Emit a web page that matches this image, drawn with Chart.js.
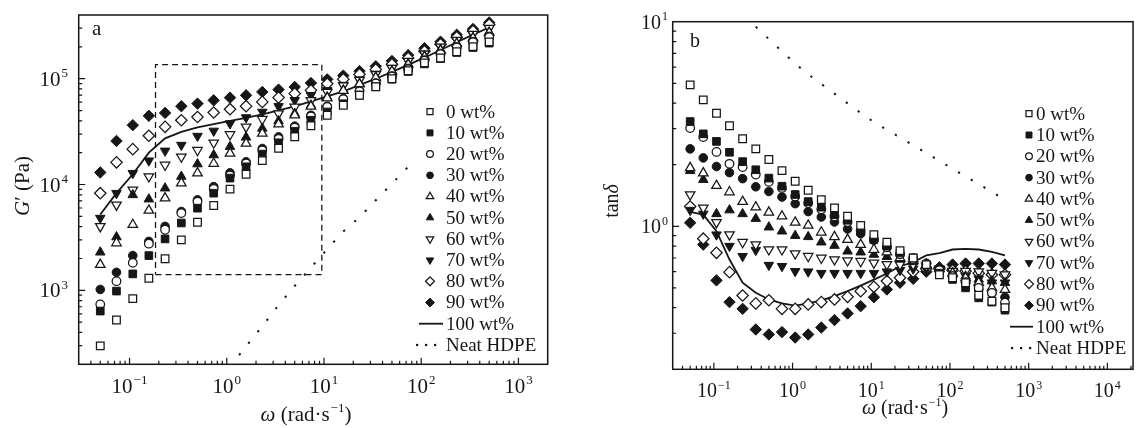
<!DOCTYPE html>
<html>
<head>
<meta charset="utf-8">
<title>G' and tan delta vs frequency</title>
<script src="https://cdn.jsdelivr.net/npm/chart.js@4.4.1/dist/chart.umd.min.js"></script>
<style>
  html, body { margin: 0; padding: 0; background: #fff; }
  #wrap { position: relative; width: 1137px; height: 428px; overflow: hidden; }
  #wrap canvas { position: absolute; top: 0; }
</style>
</head>
<body>
<div id="wrap">
  <canvas id="chartA" width="568" height="428" style="left:0px"></canvas>
  <canvas id="chartB" width="572" height="428" style="left:568px"></canvas>
</div>
<script>
// angular frequency (rad/s), same sweep in both panels
const omega = [0.05, 0.0734, 0.108, 0.158, 0.232, 0.341, 0.5, 0.734, 1.08, 1.58, 2.32, 3.41, 5, 7.34, 10.8, 15.8, 23.2, 34.1, 50, 73.4, 108, 158, 232, 341, 500];

const labels = ["0 wt%", "10 wt%", "20 wt%", "30 wt%", "40 wt%", "50 wt%", "60 wt%", "70 wt%", "80 wt%", "90 wt%", "100 wt%", "Neat HDPE"];

// panel a: storage modulus G' (Pa)
const gp0  = [299, 525, 836, 1300, 1990, 3000, 4400, 6340, 9040, 12500, 16800, 22000, 28300, 35900, 45200, 56100, 69700, 84000, 100000, 119000, 141000, 157000, 180000, 201000, 223000];
const gp10 = [637, 984, 1430, 2130, 3060, 4330, 5980, 8280, 11500, 14700, 19400, 24800, 31900, 40500, 48500, 58000, 70000, 84000, 99000, 117000, 138000, 155000, 177000, 197000, 217000];
const gp20 = [737, 1220, 1820, 2760, 3740, 5370, 6900, 9100, 12200, 15800, 21000, 27000, 34500, 44000, 54000, 64000, 76000, 90000, 105000, 123000, 148000, 171000, 197000, 221000, 247000];
const gp30 = [1020, 1480, 2130, 2900, 4020, 5560, 7160, 9550, 12900, 16400, 21900, 28200, 35600, 45200, 54800, 65000, 77000, 91000, 106000, 125000, 150000, 173000, 200000, 224000, 251000];
const gp40 = [1750, 2800, 4170, 5690, 7440, 10300, 12800, 15800, 19700, 24500, 30400, 37200, 45200, 54800, 65700, 77000, 89000, 102000, 117000, 136000, 161000, 185000, 214000, 241000, 272000];
const gp50 = [2290, 3190, 7980, 7270, 9230, 11900, 15600, 19000, 22800, 27900, 33900, 39900, 46900, 56100, 67100, 78000, 90000, 103000, 118000, 138000, 163000, 188000, 216000, 244000, 275000];
const gp60 = [4020, 6420, 8890, 11900, 15300, 18300, 21100, 24800, 29700, 35100, 41400, 46900, 54100, 62500, 74800, 86000, 97000, 110000, 126000, 147000, 172000, 200000, 232000, 264000, 300000];
const gp70 = [4820, 8280, 12800, 16800, 20800, 23600, 28700, 32100, 37700, 43000, 48500, 54800, 62500, 69700, 77600, 87000, 98000, 111000, 126000, 146000, 172000, 199000, 230000, 262000, 298000];
const gp80 = [8280, 16200, 21600, 28900, 35100, 40500, 43500, 47900, 51500, 55000, 60400, 66300, 72300, 77600, 89700, 99000, 110000, 122000, 137000, 157000, 182000, 212000, 247000, 282000, 325000];
const gp90 = [13000, 25800, 36400, 44600, 47500, 55000, 58200, 62500, 66200, 69700, 75000, 78900, 83600, 91000, 98600, 107000, 118000, 131000, 147000, 167000, 194000, 224000, 260000, 295000, 340000];
const gp100 = [5200, 8300, 12500, 20000, 27300, 31500, 34600, 37200, 39900, 42600, 46100, 50300, 54800, 61100, 68100, 76000, 87000, 100000, 116000, 135000, 158000, 187000, 221000, 261000, 305000];
const gpHdpe = [null, null, null, null, null, null, null, null, 190, 296, 457, 725, 1100, 1640, 2450, 3600, 4900, 7100, 10200, 14700, 21000, null, null, null, null];

// dashed frame marking the zoomed region in panel a
const boxX = [0.185, 9.5, 9.5, 0.185, 0.185];
const boxY = [1410, 1410, 136000, 136000, 1410];

// panel b: loss tangent tan(delta)
const tan0  = [4.91, 4.15, 3.57, 3.10, 2.68, 2.39, 2.12, 1.87, 1.66, 1.50, 1.35, 1.23, 1.12, 1.01, 0.911, 0.836, 0.76, 0.70, 0.65, 0.58, 0.56, 0.53, 0.46, 0.43, 0.40];
const tan10 = [3.25, 2.83, 2.60, 2.30, 2.07, 1.89, 1.72, 1.57, 1.43, 1.32, 1.24, 1.14, 1.07, 0.945, 0.86, 0.80, 0.74, 0.70, 0.65, 0.59, 0.55, 0.50, 0.447, 0.426, 0.389];
const tan20 = [3.02, 2.73, 2.31, 2.02, 1.95, 1.79, 1.65, 1.54, 1.40, 1.30, 1.21, 1.12, 1.05, 0.95, 0.86, 0.79, 0.73, 0.69, 0.65, 0.61, 0.57, 0.533, 0.50, 0.473, 0.423];
const tan30 = [2.39, 2.16, 1.96, 1.83, 1.71, 1.56, 1.48, 1.39, 1.29, 1.18, 1.11, 1.05, 0.97, 0.92, 0.855, 0.79, 0.73, 0.70, 0.66, 0.62, 0.57, 0.53, 0.49, 0.47, 0.45];
const tan40 = [1.93, 1.82, 1.58, 1.47, 1.32, 1.24, 1.17, 1.12, 1.045, 1.01, 0.935, 0.888, 0.861, 0.814, 0.77, 0.747, 0.70, 0.68, 0.65, 0.62, 0.59, 0.56, 0.53, 0.50, 0.49];
const tan50 = [1.87, 1.69, 1.15, 1.20, 1.15, 1.09, 0.99, 0.946, 0.90, 0.888, 0.836, 0.805, 0.755, 0.747, 0.728, 0.71, 0.69, 0.67, 0.65, 0.62, 0.59, 0.57, 0.55, 0.54, 0.53];
const tan60 = [1.43, 1.23, 1.045, 0.911, 0.836, 0.814, 0.77, 0.77, 0.736, 0.714, 0.70, 0.688, 0.68, 0.675, 0.663, 0.652, 0.65, 0.65, 0.64, 0.62, 0.603, 0.603, 0.60, 0.59, 0.58];
const tan70 = [1.20, 1.15, 0.91, 0.80, 0.714, 0.764, 0.646, 0.638, 0.603, 0.60, 0.59, 0.59, 0.59, 0.59, 0.59, 0.60, 0.61, 0.62, 0.62, 0.61, 0.60, 0.57, 0.554, 0.53, 0.53];
const tan80 = [1.25, 0.87, 0.742, 0.597, 0.459, 0.42, 0.435, 0.395, 0.395, 0.415, 0.426, 0.439, 0.452, 0.482, 0.506, 0.54, 0.56, 0.60, 0.62, 0.62, 0.61, 0.603, 0.59, 0.58, 0.58];
const tan90 = [1.04, 0.814, 0.544, 0.426, 0.395, 0.313, 0.296, 0.304, 0.286, 0.296, 0.32, 0.348, 0.375, 0.407, 0.45, 0.491, 0.53, 0.554, 0.60, 0.63, 0.65, 0.658, 0.658, 0.658, 0.65];
const tan100 = [1.175, 1.14, 0.946, 0.688, 0.53, 0.473, 0.439, 0.42, 0.41, 0.42, 0.435, 0.456, 0.482, 0.513, 0.549, 0.588, 0.638, 0.667, 0.72, 0.74, 0.77, 0.776, 0.77, 0.75, 0.72];
const tanHdpe = [null, null, null, null, null, 9.44, 8.22, 7.16, 6.24, 5.53, 4.96, 4.45, 3.99, 3.58, 3.23, 2.96, 2.72, 2.49, 2.28, 2.09, 1.91, 1.75, 1.61, 1.47, 1.35];

// decade tick labels (exponents of ten)
const xTicksA = [-1, 0, 1, 2, 3];
const yTicksA = [3, 4, 5];
const xTicksB = [-1, 0, 1, 2, 3, 4];
const yTicksB = [0, 1];

const ink = "#161616";
const serif = '"Liberation Serif", "Times New Roman", serif';

const markerStyles = [
  { style: "rect", filled: false }, { style: "rect", filled: true },
  { style: "circle", filled: false }, { style: "circle", filled: true },
  { style: "triangle", filled: false }, { style: "triangle", filled: true },
  { style: "triangle", filled: false, rot: 180 }, { style: "triangle", filled: true, rot: 180 },
  { style: "rectRot", filled: false }, { style: "rectRot", filled: true }
];
const markerRadius = { rect: 5.4, circle: 4.3, triangle: 5.5, rectRot: 5.7 };

function pts(xs, ys) {
  const out = [];
  ys.forEach((v, i) => { if (v !== null) out.push({ x: xs[i], y: v }); });
  return out;
}

function buildDatasets(series, solid, dotted, extra) {
  const sets = series.map((vals, i) => {
    const m = markerStyles[i];
    return {
      label: labels[i],
      data: pts(omega, vals),
      showLine: false,
      legendKind: "marker",
      pointStyle: m.style,
      pointRotation: m.rot || 0,
      pointRadius: markerRadius[m.style],
      backgroundColor: m.filled ? ink : "#fff",
      borderColor: ink,
      borderWidth: m.filled ? 1 : 1.25
    };
  });
  sets.push({
    label: labels[10], data: pts(omega, solid), showLine: true, legendKind: "line",
    pointRadius: 0, borderColor: ink, borderWidth: 1.8, fill: false
  });
  sets.push({
    label: labels[11], data: pts(omega, dotted), showLine: true, legendKind: "dots",
    pointRadius: 0, borderColor: ink, borderWidth: 2, borderDash: [2.2, 12.5], fill: false
  });
  if (extra) sets.push(extra);
  return sets;
}

// "10" with a raised exponent, or any mixed run of plain/italic/superscript text
function drawRich(ctx, parts, x, y, size, align) {
  const fontFor = p => (p.italic ? "italic " : "") + (p.sup ? Math.round(size * 0.62) : size) + "px " + serif;
  const widths = parts.map(p => { ctx.font = fontFor(p); return ctx.measureText(p.t).width + (p.sup ? 1 : 0); });
  const total = widths.reduce((a, b) => a + b, 0);
  let cx = align === "right" ? x - total : x - total / 2;
  ctx.textAlign = "left";
  ctx.textBaseline = "alphabetic";
  parts.forEach((p, i) => {
    ctx.font = fontFor(p);
    ctx.fillText(p.t, cx + (p.sup ? 1 : 0), p.sup ? y - size * 0.42 : y);
    cx += widths[i];
  });
}

function powParts(e) {
  return [{ t: "10" }, { t: String(e).replace("-", "\u2212"), sup: true }];
}

const framePlugin = {
  id: "frame",
  afterDatasetsDraw(chart, args, o) {
    const ctx = chart.ctx;
    const { left, right, top, bottom } = chart.chartArea;
    const xs = chart.scales.x, ys = chart.scales.y;
    ctx.save();
    ctx.setLineDash([]);

    // legend
    if (o.legendBox) {
      ctx.fillStyle = "#fff";
      ctx.fillRect(o.legendBox[0], o.legendBox[1], o.legendBox[2], o.legendBox[3]);
    }
    let row = 0;
    chart.data.datasets.forEach(ds => {
      if (!ds.legendKind) return;
      const y = o.legendTop + row * o.legendStep;
      row++;
      ctx.strokeStyle = ink;
      ctx.fillStyle = ink;
      if (ds.legendKind === "line") {
        ctx.lineWidth = 1.8;
        ctx.beginPath();
        ctx.moveTo(o.lineX[0], y);
        ctx.lineTo(o.lineX[1], y);
        ctx.stroke();
      } else if (ds.legendKind === "dots") {
        o.dotX.forEach(dx => ctx.fillRect(dx - 1, y - 1, 2.2, 2.2));
      } else {
        ctx.fillStyle = ds.backgroundColor;
        ctx.lineWidth = ds.borderWidth;
        Chart.helpers.drawPoint(ctx, {
          pointStyle: ds.pointStyle, rotation: ds.pointRotation,
          radius: ds.pointRadius * 0.78, borderWidth: ds.borderWidth
        }, o.markX, y);
      }
      ctx.fillStyle = ink;
      ctx.font = o.legendFont + "px " + serif;
      ctx.textAlign = "left";
      ctx.textBaseline = "middle";
      ctx.fillText(ds.label, o.textX, y + 1);
    });

    // plot frame
    ctx.strokeStyle = ink;
    ctx.lineWidth = 1.5;
    ctx.strokeRect(left, top, right - left, bottom - top);

    // inward log ticks on the bottom and left axes
    ctx.lineWidth = 1.2;
    ctx.beginPath();
    for (let d = Math.floor(Math.log10(xs.min)); d <= Math.ceil(Math.log10(xs.max)); d++) {
      for (let k = 1; k <= 9; k++) {
        const v = k * Math.pow(10, d);
        if (v < xs.min * 1.001 || v > xs.max * 0.999) continue;
        const px = xs.getPixelForValue(v);
        ctx.moveTo(px, bottom);
        ctx.lineTo(px, bottom - (k === 1 ? 6.5 : 3.5));
      }
    }
    for (let d = Math.floor(Math.log10(ys.min)); d <= Math.ceil(Math.log10(ys.max)); d++) {
      for (let k = 1; k <= 9; k++) {
        const v = k * Math.pow(10, d);
        if (v < ys.min * 1.001 || v > ys.max * 0.999) continue;
        const py = ys.getPixelForValue(v);
        ctx.moveTo(left, py);
        ctx.lineTo(left + (k === 1 ? 6.5 : 3.5), py);
      }
    }
    ctx.stroke();

    // tick labels
    ctx.fillStyle = ink;
    o.xTicks.forEach(e => drawRich(ctx, powParts(e), xs.getPixelForValue(Math.pow(10, e)), o.xLabelY, o.tickFont, "center"));
    o.yTicks.forEach(e => drawRich(ctx, powParts(e), o.yLabelX, ys.getPixelForValue(Math.pow(10, e)) + 7, o.tickFont, "right"));

    // axis titles
    drawRich(ctx, [{ t: "\u03c9", italic: true }, { t: " (rad\u00b7s" }, { t: "\u22121", sup: true }, { t: ")" }], o.xTitle[0], o.xTitle[1], o.titleFont, "center");
    ctx.save();
    ctx.translate(o.yTitle[0], o.yTitle[1]);
    ctx.rotate(-Math.PI / 2);
    drawRich(ctx, o.yTitleParts, 0, 0, o.titleFont, "center");
    ctx.restore();

    // panel letter
    ctx.font = o.titleFont + "px " + serif;
    ctx.textAlign = "left";
    ctx.textBaseline = "alphabetic";
    ctx.fillText(o.panel, o.panelPos[0], o.panelPos[1]);
    ctx.restore();
  }
};

function makeChart(id, datasets, range, padding, frameOpts) {
  return new Chart(document.getElementById(id).getContext("2d"), {
    type: "scatter",
    data: { datasets: datasets },
    plugins: [framePlugin],
    options: {
      responsive: false,
      animation: false,
      events: [],
      layout: { padding: padding },
      plugins: {
        legend: { display: false },
        tooltip: { enabled: false },
        frame: frameOpts
      },
      scales: {
        x: { type: "logarithmic", min: range[0], max: range[1], display: false },
        y: { type: "logarithmic", min: range[2], max: range[3], display: false }
      }
    }
  });
}

const zoomBox = {
  data: pts(boxX, boxY), showLine: true, pointRadius: 0,
  borderColor: ink, borderWidth: 1.3, borderDash: [6, 4], fill: false
};

makeChart("chartA",
  buildDatasets([gp0, gp10, gp20, gp30, gp40, gp50, gp60, gp70, gp80, gp90], gp100, gpHdpe, zoomBox),
  [0.03, 2000, 200, 4e5],
  { left: 78.7, top: 15, right: 20.3, bottom: 63.7 },
  {
    panel: "a", panelPos: [92, 35],
    xTicks: xTicksA, yTicks: yTicksA, tickFont: 21, xLabelY: 393, yLabelX: 68,
    titleFont: 21, xTitle: [306, 421], yTitle: [29, 186],
    yTitleParts: [{ t: "G", italic: true }, { t: "\u2032" }, { t: " (Pa)" }],
    legendBox: [414, 100, 126, 258], legendTop: 111.7, legendStep: 21.2, legendFont: 19,
    markX: 430, textX: 446, lineX: [419, 443], dotX: [417, 426, 435]
  });

// right edge of panel b runs just past the page, so its right border is cut off
makeChart("chartB",
  buildDatasets([tan0, tan10, tan20, tan30, tan40, tan50, tan60, tan70, tan80, tan90], tan100, tanHdpe, null),
  [0.03, 21200, 0.2, 10],
  { left: 104.7, top: 21.7, right: 1, bottom: 58.7 },
  {
    panel: "b", panelPos: [122, 47],
    xTicks: xTicksB, yTicks: yTicksB, tickFont: 20, xLabelY: 397, yLabelX: 100,
    titleFont: 20, xTitle: [337, 414], yTitle: [50, 201],
    yTitleParts: [{ t: "tan" }, { t: "\u03b4", italic: true }],
    legendBox: null, legendTop: 113.7, legendStep: 21.3, legendFont: 19,
    markX: 461, textX: 468, lineX: [442, 465], dotX: [444, 453, 462]
  });
</script>
</body>
</html>
